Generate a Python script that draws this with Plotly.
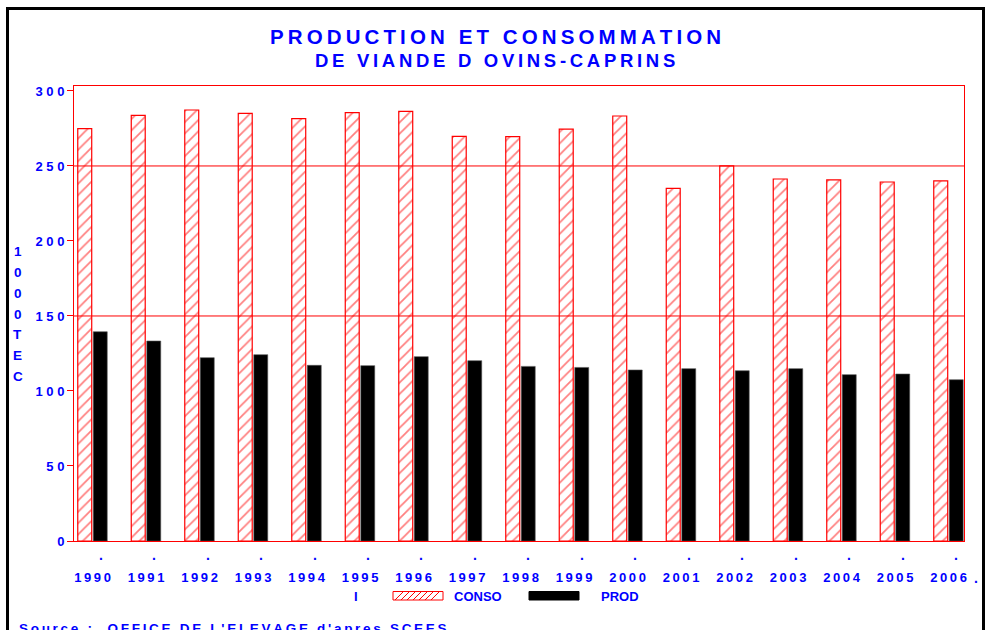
import plotly.graph_objects as go

# ---------------- data ----------------
years = ["1990", "1991", "1992", "1993", "1994", "1995", "1996", "1997", "1998",
         "1999", "2000", "2001", "2002", "2003", "2004", "2005", "2006"]
conso = [274.9, 283.7, 287.3, 285.1, 281.5, 285.5, 286.4, 269.7, 269.5,
         274.6, 283.3, 235.1, 250.0, 241.3, 240.7, 239.3, 240.0]
prod = [139.5, 133.3, 122.2, 124.2, 117.1, 116.9, 122.9, 120.2, 116.4,
        115.7, 114.0, 114.9, 113.5, 114.9, 110.9, 111.3, 107.5]
y_ticks = [0, 50, 100, 150, 200, 250, 300]
grid_values = [150, 250]
series_names = ["CONSO", "PROD"]
title_text = "PRODUCTION ET CONSOMMATION"
subtitle_text = "DE VIANDE D OVINS-CAPRINS"
y_title = "1000TEC"
source_text = "Source :  OFFICE DE L'ELEVAGE d'apres SCEES"

# ---------------- layout helpers ----------------
W, H = 988, 630
L, R, T, B = 74, 964, 86, 541  # plot area in window pixels
BLUE = "#0000FF"
RED = "#FF0000"
FONT = "Liberation Sans, Arial, sans-serif"
TS = "\u2009"  # thin space used as letter spacing


def spaced(s, sep=TS):
    return sep.join(s)


def px(x):
    return (x - L) / (R - L)


def py(y):
    return (B - y) / (B - T)


fig = go.Figure()
fig.add_trace(go.Bar(
    x=years, y=conso, name=series_names[0],
    marker=dict(color="white", line=dict(color=RED, width=1.2),
                pattern=dict(shape="/", fgcolor=RED, bgcolor="white", size=8, solidity=0.22)),
))
fig.add_trace(go.Bar(
    x=years, y=prod, name=series_names[1],
    marker=dict(color="black", line=dict(color="#555555", width=0.6)),
))

shapes = []
# grid lines (drawn over the bars like the reference)
for g in grid_values:
    shapes.append(dict(type="line", xref="paper", yref="y", x0=0, x1=1, y0=g, y1=g,
                       line=dict(color=RED, width=1), layer="above"))
# outer black frame
shapes.append(dict(type="rect", xref="paper", yref="paper",
                   x0=px(7.5), x1=px(983.5), y0=py(660), y1=py(8.5),
                   line=dict(color="black", width=3)))
# legend swatches
sx0, sx1, sy0, sy1 = 393, 443, 591.5, 600
shapes.append(dict(type="rect", xref="paper", yref="paper",
                   x0=px(sx0), x1=px(sx1), y0=py(sy1), y1=py(sy0),
                   line=dict(color=RED, width=1), fillcolor="white"))
path = ""
hx = sx0 + 2
h = sy1 - sy0
while hx + h <= sx1:
    path += "M{:.5f},{:.5f} L{:.5f},{:.5f} ".format(px(hx), py(sy1), px(hx + h), py(sy0))
    hx += 6
shapes.append(dict(type="path", xref="paper", yref="paper", path=path,
                   line=dict(color=RED, width=1)))
shapes.append(dict(type="rect", xref="paper", yref="paper",
                   x0=px(529), x1=px(579), y0=py(sy1), y1=py(sy0),
                   line=dict(color="black", width=1), fillcolor="black"))

bold = dict(color=BLUE, family=FONT, weight="bold")
ann = []
# title
ann.append(dict(text=spaced(title_text), x=px(495.5), y=py(36.3), xref="paper", yref="paper",
                showarrow=False, xanchor="center", yanchor="middle",
                font=dict(size=20.5, **bold)))
ann.append(dict(text=spaced(subtitle_text), x=px(495), y=py(60.8), xref="paper", yref="paper",
                showarrow=False, xanchor="center", yanchor="middle",
                font=dict(size=18.5, **bold)))
# vertical y title
for i, ch in enumerate(y_title):
    ann.append(dict(text=ch, x=px(17.5), y=py(251.7 + 20.8 * i), xref="paper", yref="paper",
                    showarrow=False, xanchor="center", yanchor="middle",
                    font=dict(size=13.5, **bold)))
# dots above the year labels (category index positions)
for i in range(len(years)):
    ann.append(dict(text=".", x=i, y=py(555), xref="x", yref="paper", xshift=8,
                    showarrow=False, xanchor="center", yanchor="middle",
                    font=dict(size=14, **bold)))
ann.append(dict(text=".", x=px(976), y=py(578), xref="paper", yref="paper",
                showarrow=False, xanchor="center", yanchor="middle",
                font=dict(size=14, **bold)))
# legend texts
ann.append(dict(text="I", x=px(356), y=py(596), xref="paper", yref="paper",
                showarrow=False, xanchor="center", yanchor="middle",
                font=dict(size=13, **bold)))
ann.append(dict(text=series_names[0], x=px(452), y=py(596), xref="paper", yref="paper",
                showarrow=False, xanchor="left", yanchor="middle",
                font=dict(size=13, **bold)))
ann.append(dict(text=series_names[1], x=px(599), y=py(596), xref="paper", yref="paper",
                showarrow=False, xanchor="left", yanchor="middle",
                font=dict(size=13, **bold)))
# source (cut at the bottom edge as in the reference)
ann.append(dict(text=spaced(source_text), x=px(17), y=py(619), xref="paper", yref="paper",
                showarrow=False, xanchor="left", yanchor="top",
                font=dict(size=13.5, **bold)))

fig.update_layout(
    width=W, height=H,
    margin=dict(l=L, r=W - R, t=T, b=H - B, pad=0),
    paper_bgcolor="white", plot_bgcolor="white",
    showlegend=False,
    barmode="group", bargap=0.42, bargroupgap=0.1,
    font=dict(family=FONT, color=BLUE),
    shapes=shapes, annotations=ann,
    xaxis=dict(type="category", range=[-0.3458, 16.29],
               tickvals=years, ticktext=[spaced(y) for y in years],
               tickfont=dict(size=13, **bold),
               ticks="", showgrid=False, zeroline=False,
               showline=True, linecolor=RED, linewidth=1, mirror=True,
               ticklabelstandoff=24),
    yaxis=dict(range=[0, 303.3], tickvals=y_ticks, ticktext=[spaced(str(v), " ") for v in y_ticks],
               tickfont=dict(size=13, **bold),
               ticks="outside", ticklen=6, tickcolor=RED, tickwidth=1,
               showgrid=False, zeroline=False,
               showline=True, linecolor=RED, linewidth=1, mirror=True),
)

fig.write_html(
    "out.html",
    config={"displayModeBar": False},
    post_script="document.body.style.margin='0';document.body.style.overflow='hidden';",
)
